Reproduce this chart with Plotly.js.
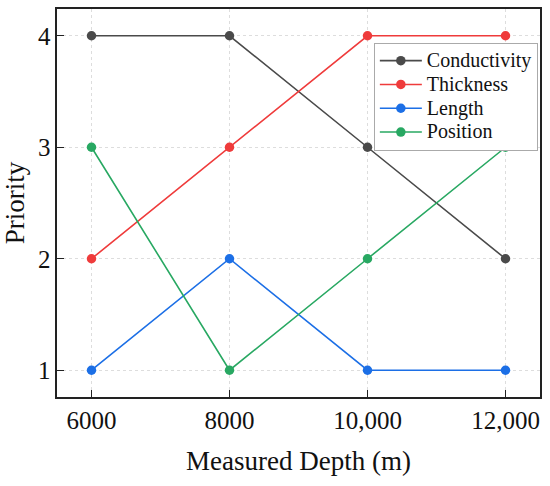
<!DOCTYPE html>
<html><head><meta charset="utf-8">
<script src="https://cdn.plot.ly/plotly-3.0.1.min.js"></script>
<style>html,body{margin:0;padding:0;background:#fff}#c{width:550px;height:486px}</style>
</head><body><div id="c"></div>
<script>
const depths = [6000, 8000, 10000, 12000];
const tickLabels = ['6000', '8000', '10,000', '12,000'];
const conductivity = [4, 4, 3, 2];
const thickness = [2, 3, 4, 4];
const lengthP = [1, 2, 1, 1];
const position = [3, 1, 2, 3];
const names = ['Conductivity', 'Thickness', 'Length', 'Position'];
const colors = ['#4a4a4a', '#ef3b3b', '#1c6fe6', '#28a862'];
const series = [conductivity, thickness, lengthP, position];
const traces = series.map((s, i) => ({
  x: depths, y: s, name: '<span style="font-size:20px">' + names[i] + '</span>',
  type: 'scatter', mode: 'lines+markers',
  line: {color: colors[i], width: 1.6}, marker: {color: colors[i], size: 9.5}
}));
const font = '"Times New Roman", "Liberation Serif", Times, serif';
const layout = {
  width: 550, height: 486,
  margin: {l: 57, r: 10, t: 9, b: 89},
  paper_bgcolor: '#fff', plot_bgcolor: '#fff',
  font: {family: font, color: '#111', size: 20},
  showlegend: true,
  legend: {x: 0.656, y: 0.913, xanchor: 'left', yanchor: 'top', bordercolor: '#aaa', borderwidth: 1,
    bgcolor: '#fff', font: {family: font, size: 16, color: '#111'}, tracegroupgap: 0, itemwidth: 42},
  xaxis: {range: [5500, 12500], tickvals: depths, ticktext: tickLabels, ticks: 'inside', ticklen: 7,
    tickwidth: 1.2, tickcolor: '#222', showline: true, linecolor: '#222', linewidth: 1.6, mirror: true,
    showgrid: true, gridcolor: '#dddddd', griddash: 'dot', gridwidth: 1, zeroline: false,
    tickfont: {family: font, size: 25, color: '#111'},
    title: {text: 'Measured Depth (m)', font: {family: font, size: 27, color: '#111'}, standoff: 18}},
  yaxis: {range: [0.76, 4.24], tickvals: [1, 2, 3, 4], ticks: 'inside', ticklen: 7,
    tickwidth: 1.2, tickcolor: '#222', showline: true, linecolor: '#222', linewidth: 1.6, mirror: true,
    showgrid: true, gridcolor: '#dddddd', griddash: 'dot', gridwidth: 1, zeroline: false,
    tickfont: {family: font, size: 25, color: '#111'},
    title: {text: 'Priority', font: {family: font, size: 27, color: '#111'}, standoff: 8}}
};
Plotly.newPlot('c', traces, layout, {displayModeBar: false, staticPlot: true});
</script></body></html>
